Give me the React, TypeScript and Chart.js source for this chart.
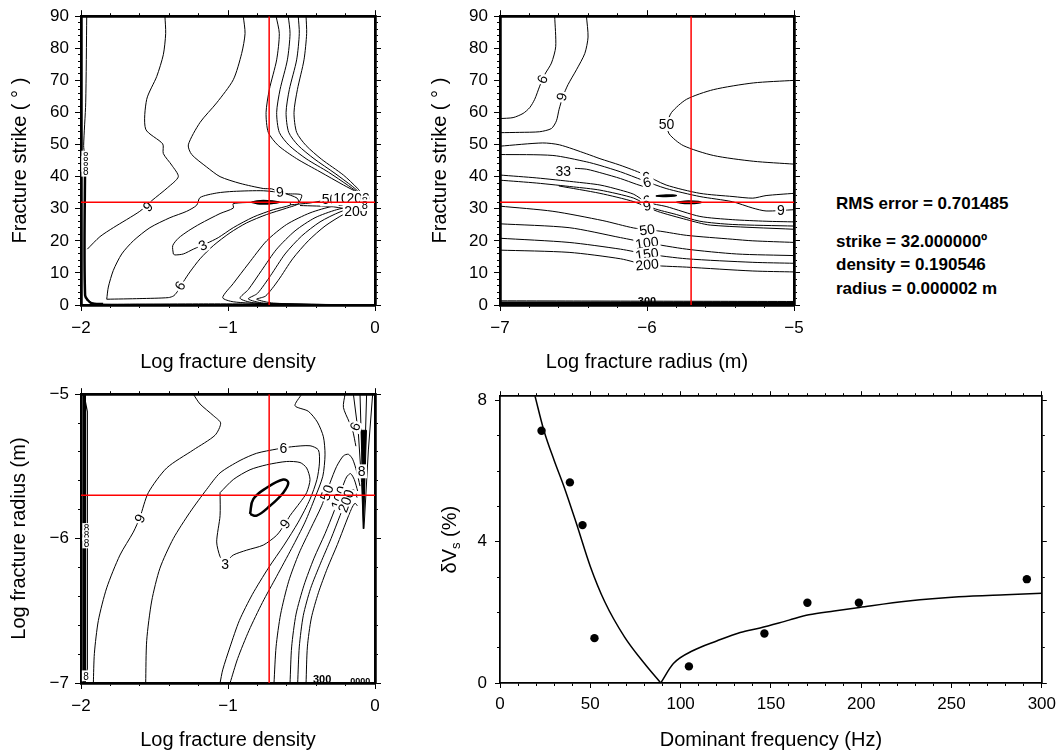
import React, { useEffect, useRef } from 'react';
import { Chart, registerables } from 'chart.js';

Chart.register(...registerables);

const FONT = "'Liberation Sans', Arial, Helvetica, sans-serif";
Chart.defaults.font.family = FONT;
Chart.defaults.color = '#000';

type Pt = [number, number];
type Lbl = { x: number; y: number; t: string; r?: number; s?: number; b?: boolean; nobg?: boolean };

// ---------------- tick positions ----------------
const DENSITY_MAJOR = [-2, -1, 0];
const DENSITY_MINOR = [-2, -1.8, -1.6, -1.4, -1.2, -1, -0.8, -0.6, -0.4, -0.2, 0];
const RADIUS_MAJOR = [-7, -6, -5];
const RADIUS_MINOR = [-7, -6.8, -6.6, -6.4, -6.2, -6, -5.8, -5.6, -5.4, -5.2, -5];
const STRIKE_MAJOR = [0, 10, 20, 30, 40, 50, 60, 70, 80, 90];
const STRIKE_MINOR = [0, 2, 4, 6, 8, 10, 12, 14, 16, 18, 20, 22, 24, 26, 28, 30, 32, 34, 36, 38, 40, 42, 44, 46, 48, 50, 52, 54, 56, 58, 60, 62, 64, 66, 68, 70, 72, 74, 76, 78, 80, 82, 84, 86, 88, 90];
const FREQ_MAJOR = [0, 50, 100, 150, 200, 250, 300];
const FREQ_MINOR = [0, 10, 20, 30, 40, 50, 60, 70, 80, 90, 100, 110, 120, 130, 140, 150, 160, 170, 180, 190, 200, 210, 220, 230, 240, 250, 260, 270, 280, 290, 300];
const DVS_MAJOR = [0, 4, 8];
const DVS_MINOR = [0, 1, 2, 3, 4, 5, 6, 7, 8];

// ---------------- best-fit values ----------------
const BEST_STRIKE = 32;
const BEST_LOG_DENSITY = -0.72;
const BEST_LOG_RADIUS = -5.7;
const RMS_TEXT = 'RMS error = 0.701485';
const STRIKE_TEXT = 'strike = 32.000000\u00ba';
const DENSITY_TEXT = 'density = 0.190546';
const RADIUS_TEXT = 'radius = 0.000002 m';

// ---------------- panel 4: data & model ----------------
const FREQ_OBS = [23, 38.7, 45.7, 52.3, 104.6, 146.4, 170.2, 198.7, 291.7];
const DVS_OBS = [7.14, 5.68, 4.47, 1.27, 0.47, 1.4, 2.27, 2.27, 2.94];
// model branch below the cusp (low frequencies) and above it
const FREQ_MODEL_LOW = [19.3, 24.3, 30, 35.5, 42.4, 50, 58, 69, 80, 89];
const DVS_MODEL_LOW = [8.14, 7.15, 6.3, 5.55, 4.5, 3.3, 2.3, 1.3, 0.55, 0];
const FREQ_MODEL_HIGH = [89, 96, 107, 120, 133, 144, 160, 171, 185, 199, 226, 254, 280, 300];
const DVS_MODEL_HIGH = [0, 0.55, 0.92, 1.19, 1.43, 1.56, 1.78, 1.93, 2.04, 2.14, 2.32, 2.44, 2.5, 2.54];

// ---------------- panel 1 contours (log density, strike) ----------------
const P1_LEFT_THIN: Pt[] = [[-1.961, 90], [-1.968, 63], [-1.982, 49.7], [-1.976, 47]];
const P1_LEFT_THICK: Pt[] = [[-1.972, 47], [-1.972, 3], [-1.93, 0.6], [-1.85, 0.3]];
const P1_BOTTOM: Pt[] = [[-1.966, 1.7], [-1.905, 0.4], [-1.6, 0.3], [-1.2, 0.35], [-0.9, 0.35], [-0.5, 0.2], [-0.05, 0.1]];
const P1_C9: Pt[] = [[-1.429, 90], [-1.424, 84.6], [-1.44, 78], [-1.485, 71.2], [-1.553, 64.1], [-1.56, 54.8], [-1.444, 50.2], [-1.44, 47.2], [-1.383, 43.6], [-1.338, 40.0], [-1.41, 36.6], [-1.519, 32.5], [-1.6, 29.2], [-1.78, 24.1], [-1.871, 21.3], [-1.957, 17.4]];
const P1_C9B: Pt[] = [[-0.896, 90], [-0.884, 84.6], [-0.907, 78.4], [-0.964, 70.2], [-1.077, 63], [-1.19, 56.9], [-1.27, 49.9], [-1.247, 46.9], [-1.145, 43], [-1.054, 40], [-0.918, 37.9], [-0.76, 36.3], [-0.703, 36.2], [-0.669, 35.6], [-0.6, 34.7], [-0.499, 34.3], [-0.517, 31.8]];
const P1_C6: Pt[] = [[-1.825, 1.8], [-1.814, 5.6], [-1.78, 10.8], [-1.723, 15.9], [-1.644, 20], [-1.531, 24.1], [-1.395, 27.2], [-1.281, 29.2], [-1.213, 31.1], [-1.19, 33.5], [-1.077, 34.9], [-0.964, 35.4], [-0.76, 35.6], [-0.62, 34.8], [-0.53, 33.3], [-0.52, 31.6], [-0.601, 30.2], [-0.737, 28.2], [-0.873, 25.6], [-0.986, 22.5], [-1.1, 18.5], [-1.19, 14.4], [-1.259, 10.3], [-1.304, 7.2], [-1.338, 4.6], [-1.368, 2.9], [-1.406, 2.3], [-1.599, 2.0], [-1.825, 1.8]];
const P1_C3: Pt[] = [[-1.372, 15.9], [-1.376, 18.5], [-1.338, 20.8], [-1.27, 23.1], [-1.19, 25.3], [-1.054, 28.5], [-0.964, 30.2], [-0.964, 31.6], [-0.782, 32.0], [-0.578, 31.9], [-0.578, 31.1], [-0.692, 29.7], [-0.828, 27.4], [-0.964, 24.1], [-1.066, 21.0], [-1.145, 19.2], [-1.236, 17.4], [-1.304, 15.9], [-1.361, 15.6], [-1.372, 15.9]];
const P1_MIN: Pt[] = [[-0.84, 32.0], [-0.8, 32.45], [-0.76, 32.6], [-0.7, 32.45], [-0.65, 32.05], [-0.7, 31.65], [-0.76, 31.45], [-0.8, 31.55], [-0.84, 32.0]];
const P1_U1: Pt[] = [[-0.673, 90], [-0.651, 84.6], [-0.669, 76.4], [-0.719, 67.1], [-0.741, 60], [-0.726, 53.8], [-0.658, 49.7], [-0.533, 45.6], [-0.374, 41.5], [-0.215, 37.4], [-0.113, 34.9], [-0.068, 33.3]];
const P1_U2: Pt[] = [[-0.59, 90], [-0.578, 84.6], [-0.596, 76.4], [-0.646, 67.1], [-0.669, 60], [-0.651, 53.8], [-0.583, 49.7], [-0.469, 45.6], [-0.317, 41.4], [-0.181, 37.2], [-0.097, 34.5], [-0.066, 33.3]];
const P1_U3: Pt[] = [[-0.522, 90], [-0.515, 84.6], [-0.533, 76.4], [-0.583, 67.1], [-0.605, 60], [-0.587, 53.8], [-0.522, 49.7], [-0.415, 45.6], [-0.272, 41], [-0.152, 36.9], [-0.088, 34.3], [-0.061, 33.2]];
const P1_U4: Pt[] = [[-0.469, 90], [-0.465, 84.6], [-0.483, 76.4], [-0.528, 67.1], [-0.551, 60], [-0.533, 53.8], [-0.469, 49.7], [-0.363, 45.4], [-0.215, 40.5], [-0.12, 36.4], [-0.079, 34.1], [-0.057, 33.1]];
const P1_D1: Pt[] = [[-0.079, 31.8], [-0.283, 30.8], [-0.442, 28.7], [-0.601, 25.1], [-0.737, 20], [-0.862, 12.8], [-0.964, 6.7], [-1.036, 2.3], [-0.964, 1.0], [-0.737, 0.4], [-0.397, 0.2], [-0.057, 0.05]];
const P1_D2: Pt[] = [[-0.075, 31.6], [-0.261, 29.7], [-0.408, 27.2], [-0.544, 23.1], [-0.669, 17.4], [-0.771, 10.8], [-0.862, 4.8], [-0.918, 2.1], [-0.828, 0.7], [-0.51, 0.2], [-0.057, 0.05]];
const P1_D3: Pt[] = [[-0.07, 31.4], [-0.238, 29], [-0.374, 25.9], [-0.499, 21.5], [-0.612, 15.9], [-0.71, 9.2], [-0.8, 3.6], [-0.862, 1.9], [-0.76, 0.6], [-0.397, 0.1]];
const P1_D4: Pt[] = [[-0.066, 31.2], [-0.215, 28.2], [-0.34, 24.6], [-0.454, 20], [-0.56, 14.4], [-0.658, 7.7], [-0.744, 2.8], [-0.805, 1.8], [-0.692, 0.6], [-0.283, 0.1]];
const P1_M1: Pt[] = [[-0.578, 31.2], [-0.442, 31.8], [-0.306, 32.9], [-0.193, 33.3], [-0.068, 33.1]];
const P1_M2: Pt[] = [[-0.51, 31.0], [-0.283, 30.6], [-0.136, 29.6], [-0.07, 31.0]];
const P1_LABELS: Lbl[] = [
  { x: -1.545, y: 30.7, t: '9', r: -45 },
  { x: -0.646, y: 35.3, t: '9', r: -5 },
  { x: -1.172, y: 18.6, t: '3', r: -25 },
  { x: -1.327, y: 6.0, t: '6', r: -58 },
  { x: -0.31, y: 32.9, t: '50' },
  { x: -0.205, y: 33.3, t: '100' },
  { x: -0.115, y: 33.4, t: '200' },
  { x: -0.13, y: 29.4, t: '200' },
  { x: -0.07, y: 32.3, t: '8', s: 11 },
  { x: -0.07, y: 31.1, t: '8', s: 11 },
  { x: -1.968, y: 46.4, t: '8', s: 10 },
  { x: -1.968, y: 44.8, t: '8', s: 10 },
  { x: -1.968, y: 43.2, t: '8', s: 10 },
  { x: -1.968, y: 41.7, t: '8', s: 10 },
];

// ---------------- panel 2 contours (log radius, strike) ----------------
const P2_C6: Pt[] = [[-6.628, 90], [-6.621, 80.5], [-6.65, 75.4], [-6.696, 71.8], [-6.73, 68.2], [-6.764, 64.1], [-6.798, 61.5], [-6.843, 59.7], [-6.911, 58.4], [-7, 58.1]];
const P2_C9: Pt[] = [[-6.412, 90], [-6.401, 83.5], [-6.423, 78.4], [-6.48, 73.3], [-6.537, 68.7], [-6.571, 65.1], [-6.598, 61], [-6.616, 57.4], [-6.65, 55], [-6.73, 54], [-6.866, 53.8], [-7, 53.7]];
const P2_C50: Pt[] = [[-5, 70], [-5.277, 69.2], [-5.549, 67.1], [-5.731, 64.1], [-5.833, 60], [-5.863, 56.4], [-5.849, 53.3], [-5.754, 49.7], [-5.549, 46.6], [-5.277, 44.8], [-5, 43.9]];
const P2_A: Pt[] = [[-7, 49.5], [-6.71, 50.5], [-6.594, 49.9], [-6.41, 47.1], [-6.32, 45.6], [-6.185, 43.6], [-6.03, 40.9], [-5.87, 37.4], [-5.64, 34.8], [-5.415, 33.8], [-5.28, 33.3], [-5.19, 34.1], [-5, 34.8]];
const P2_B: Pt[] = [[-7, 46.9], [-6.64, 46.6], [-6.41, 44.6], [-6.32, 43.5], [-6.18, 41.5], [-6.03, 38.9], [-5.87, 36.3], [-5.64, 33.8], [-5.42, 32.2], [-5.28, 30.2], [-5.19, 29.3], [-5, 29.7]];
const P2_C: Pt[] = [[-7, 40.5], [-6.75, 39.6], [-6.5, 38.4], [-6.32, 37.4], [-6.18, 35.8], [-6.09, 34.5], [-6, 32.0], [-5.87, 30.7], [-5.64, 27.6], [-5.42, 26.6], [-5.19, 26.1], [-5, 25.9]];
const P2_D: Pt[] = [[-7, 38.9], [-6.75, 38.0], [-6.5, 36.8], [-6.32, 35.8], [-6.09, 33.3], [-5.96, 30.2], [-5.8, 28.2], [-5.64, 26.1], [-5.42, 25.1], [-5, 24.6]];
const P2_E: Pt[] = [[-6.6, 37.1], [-6.32, 34.8], [-6.09, 32.2], [-5.93, 29.2], [-5.73, 26.6], [-5.57, 24.9], [-5, 23.6]];
const P2_33: Pt[] = [[-6.49, 42.6], [-6.41, 42.3], [-6.3, 41.0], [-6.18, 39.4], [-6.07, 37.6], [-6.0, 36.6]];
const P2_50: Pt[] = [[-7, 30.8], [-6.64, 29.2], [-6.3, 26.3], [-6.09, 24.0], [-5.91, 23.0], [-5.73, 21.7], [-5.42, 20.5], [-5.28, 20.0], [-5, 19.5]];
const P2_100: Pt[] = [[-7, 25.3], [-6.53, 24.1], [-6.18, 21.0], [-6.0, 19.4], [-5.73, 17.4], [-5.39, 15.9], [-5, 15.4]];
const P2_150: Pt[] = [[-7, 20.8], [-6.53, 19.5], [-6.18, 17.4], [-6.0, 15.9], [-5.73, 14.4], [-5.28, 13.3], [-5, 13.0]];
const P2_200: Pt[] = [[-7, 17.1], [-6.53, 16.4], [-6.18, 14.4], [-6.0, 12.5], [-5.73, 11.8], [-5.28, 10.6], [-5, 10.3]];
const P2_BLOB1: Pt[] = [[-5.94, 34.0], [-5.87, 34.3], [-5.8, 34.1], [-5.87, 33.8], [-5.94, 34.0]];
const P2_BLOB2: Pt[] = [[-5.8, 32.0], [-5.72, 32.4], [-5.63, 32.0], [-5.72, 31.6], [-5.8, 32.0]];
const P2_FLOOR: Pt[] = [[-7, 0.5], [-5, 0.5]];
const P2_FLOOR2: Pt[] = [[-7, 1.3], [-6.5, 1.25], [-6, 1.2], [-5.5, 1.15], [-5, 1.1]];
const P2_LABELS: Lbl[] = [
  { x: -6.712, y: 70.4, t: '6', r: -65 },
  { x: -6.582, y: 64.9, t: '9', r: -75 },
  { x: -5.867, y: 56.4, t: '50' },
  { x: -6.57, y: 41.7, t: '33' },
  { x: -6.0, y: 40.0, t: '9', r: -18 },
  { x: -6.0, y: 38.3, t: '6', r: -18 },
  { x: -6.0, y: 32.6, t: '6', r: -15 },
  { x: -6.0, y: 31.0, t: '9', r: -15 },
  { x: -5.09, y: 29.6, t: '9' },
  { x: -6.0, y: 23.5, t: '50', r: -8 },
  { x: -6.0, y: 19.4, t: '100', r: -8 },
  { x: -6.0, y: 15.9, t: '150', r: -8 },
  { x: -6.0, y: 12.6, t: '200', r: -6 },
  { x: -6.0, y: 1.2, t: '300', s: 11, b: true, nobg: true },
];

// ---------------- panel 3 contours (log density, log radius) ----------------
const P3_EDGE_THICK: Pt[] = [[-1.976, -5], [-1.976, -7]];
const P3_EDGE_THIN: Pt[] = [[-1.976, -5.02], [-1.957, -5.12], [-1.957, -6.9], [-1.972, -6.99]];
const P3_C9L: Pt[] = [[-1.236, -5.0], [-1.19, -5.068], [-1.1, -5.148], [-1.05, -5.2], [-1.088, -5.284], [-1.236, -5.386], [-1.417, -5.511], [-1.542, -5.682], [-1.599, -5.852], [-1.644, -5.955], [-1.735, -6.114], [-1.825, -6.341], [-1.882, -6.568], [-1.909, -6.795], [-1.916, -7.0]];
const P3_C6: Pt[] = [[-1.56, -7], [-1.553, -6.705], [-1.519, -6.432], [-1.463, -6.205], [-1.372, -6.0], [-1.259, -5.818], [-1.145, -5.659], [-1.054, -5.545], [-0.918, -5.459], [-0.805, -5.409], [-0.669, -5.38], [-0.567, -5.364], [-0.442, -5.357], [-0.385, -5.386], [-0.378, -5.477], [-0.395, -5.591], [-0.442, -5.727], [-0.522, -5.886], [-0.619, -6.045], [-0.726, -6.205], [-0.834, -6.386], [-0.923, -6.568], [-0.986, -6.75], [-1.036, -6.909], [-1.054, -7]];
const P3_LOOP: Pt[] = [[-1.054, -5.682], [-0.964, -5.591], [-0.85, -5.523], [-0.737, -5.489], [-0.601, -5.466], [-0.51, -5.473], [-0.465, -5.511], [-0.442, -5.591], [-0.465, -5.682], [-0.51, -5.75], [-0.578, -5.841], [-0.612, -5.898], [-0.669, -5.977], [-0.76, -6.045], [-0.873, -6.08], [-0.964, -6.114], [-1.009, -6.159], [-1.02, -6.177], [-1.054, -6.125], [-1.077, -6.023], [-1.054, -5.841], [-1.054, -5.682]];
const P3_MIN: Pt[] = [[-0.85, -5.83], [-0.828, -5.727], [-0.737, -5.648], [-0.624, -5.591], [-0.59, -5.614], [-0.624, -5.682], [-0.714, -5.773], [-0.805, -5.841], [-0.85, -5.83]];
const P3_9R: Pt[] = [[-0.499, -5], [-0.544, -5.08], [-0.454, -5.118], [-0.392, -5.193], [-0.351, -5.295], [-0.34, -5.42], [-0.355, -5.568], [-0.408, -5.716], [-0.476, -5.886], [-0.567, -6.068], [-0.669, -6.261], [-0.766, -6.443], [-0.857, -6.636], [-0.934, -6.83], [-0.986, -7]];
const P3_A0: Pt[] = [[-0.687, -7], [-0.673, -6.75], [-0.642, -6.523], [-0.587, -6.295], [-0.517, -6.102], [-0.438, -5.932], [-0.363, -5.773], [-0.306, -5.614], [-0.261, -5.5], [-0.215, -5.427], [-0.181, -5.416], [-0.152, -5.45], [-0.125, -5.534], [-0.102, -5.636]];
const P3_A1: Pt[] = [[-0.578, -7], [-0.567, -6.75], [-0.537, -6.523], [-0.483, -6.323], [-0.415, -6.136], [-0.34, -5.966], [-0.277, -5.807], [-0.227, -5.659], [-0.193, -5.573], [-0.166, -5.55], [-0.141, -5.591], [-0.118, -5.67]];
const P3_A2: Pt[] = [[-0.526, -7], [-0.515, -6.75], [-0.488, -6.534], [-0.438, -6.345], [-0.37, -6.17], [-0.299, -6.0], [-0.238, -5.841], [-0.193, -5.727], [-0.163, -5.664], [-0.141, -5.664], [-0.122, -5.716]];
const P3_A3: Pt[] = [[-0.469, -7], [-0.46, -6.75], [-0.433, -6.55], [-0.385, -6.375], [-0.324, -6.205], [-0.256, -6.041], [-0.197, -5.886], [-0.159, -5.791], [-0.136, -5.755], [-0.12, -5.773]];
const P3_S1: Pt[] = [[-0.147, -5], [-0.113, -5.273], [-0.091, -5.614], [-0.079, -5.932]];
const P3_S2: Pt[] = [[-0.102, -5], [-0.091, -5.386], [-0.079, -5.932]];
const P3_S3: Pt[] = [[-0.057, -5], [-0.068, -5.386], [-0.079, -5.932]];
const P3_S4: Pt[] = [[-0.016, -5], [-0.045, -5.386], [-0.075, -5.932]];
const P3_SFILL: Pt[] = [[-0.092, -5.25], [-0.058, -5.25], [-0.078, -5.9], [-0.092, -5.25]];
const P3_TR: Pt[] = [[-0.204, -5], [-0.215, -5.091], [-0.175, -5.193], [-0.152, -5.25], [-0.13, -5.36]];
const P3_LABELS: Lbl[] = [
  { x: -1.6, y: -5.86, t: '9', r: -65 },
  { x: -0.624, y: -5.375, t: '6' },
  { x: -0.612, y: -5.898, t: '9', r: -55 },
  { x: -1.02, y: -6.18, t: '3' },
  { x: -0.329, y: -5.682, t: '50', r: -70 },
  { x: -0.246, y: -5.716, t: '100', r: -70 },
  { x: -0.198, y: -5.739, t: '200', r: -70 },
  { x: -0.136, y: -5.223, t: '6', r: -65 },
  { x: -0.091, y: -5.534, t: '8' },
  { x: -1.962, y: -5.93, t: '8', s: 10 },
  { x: -1.962, y: -5.98, t: '8', s: 10 },
  { x: -1.962, y: -6.03, t: '8', s: 10 },
  { x: -1.965, y: -6.95, t: '8', s: 10 },
  { x: -0.36, y: -6.975, t: '300', s: 11, b: true, nobg: true },
  { x: -0.1, y: -6.98, t: '0000', s: 9, b: true, nobg: true },
];

// ---------------- helpers ----------------
const toXY = (pts: Pt[]) => pts.map(([x, y]) => ({ x, y }));
const contour = (pts: Pt[], width = 1, extra: any = {}) => ({
  data: toXY(pts),
  showLine: true,
  borderColor: '#000',
  backgroundColor: '#000',
  borderWidth: width,
  pointRadius: 0,
  pointHoverRadius: 0,
  tension: 0.25,
  fill: false,
  order: 1,
  ...extra,
});
const blob = (pts: Pt[]) => contour(pts, 1.5, { fill: 'shape', tension: 0.4 });
const redCross = (bx: number, by: number, xMin: number, xMax: number, yMin: number, yMax: number) => [
  { label: 'red', data: [{ x: bx, y: yMin }, { x: bx, y: yMax }], showLine: true, borderColor: '#ff0000', borderWidth: 1.5, pointRadius: 0, tension: 0, order: -1 },
  { label: 'red', data: [{ x: xMin, y: by }, { x: xMax, y: by }], showLine: true, borderColor: '#ff0000', borderWidth: 1.5, pointRadius: 0, tension: 0, order: -1 },
];

const fmtTick = (v: number) => (v < 0 ? '\u2212' + String(Math.abs(v)) : String(v));

function buildScales(c: any) {
  const s: any = {};
  const mk = (id: string, axis: string, position: string, min: number, max: number, arr: number[], len: number, weight: number, size: number, labels: boolean, title: any) => {
    s[id] = {
      type: 'linear',
      axis,
      position,
      min,
      max,
      weight,
      bounds: 'data',
      afterBuildTicks: (sc: any) => {
        sc.ticks = arr.map((v) => ({ value: v }));
      },
      afterFit: (sc: any) => {
        if (axis === 'x') sc.height = size;
        else sc.width = size;
      },
      grid: { drawOnChartArea: false, drawTicks: true, tickLength: len, color: '#000', tickColor: '#000', lineWidth: 1, tickWidth: 1 },
      border: { display: true, color: '#000', width: c.frame },
      ticks: labels
        ? {
            display: true,
            autoSkip: false,
            maxRotation: 0,
            minRotation: 0,
            padding: axis === 'x' ? c.xPad : c.yPad,
            color: '#000',
            font: { family: FONT, size: 17 },
            callback: (v: any) => fmtTick(Number(v)),
          }
        : { display: false },
      title: title
        ? { display: true, text: title.text, color: '#000', font: { family: FONT, size: 20 }, padding: title.padding }
        : { display: false },
    };
  };
  mk('x', 'x', 'bottom', c.xMin, c.xMax, c.xMajor, c.major, 1, c.B, true, c.xTitle);
  mk('xMinor', 'x', 'bottom', c.xMin, c.xMax, c.xMinor, c.minor, 0, 0, false, null);
  mk('xTop', 'x', 'top', c.xMin, c.xMax, c.xMajor, c.major, 1, c.T, false, null);
  mk('xTopMinor', 'x', 'top', c.xMin, c.xMax, c.xMinor, c.minor, 0, 0, false, null);
  mk('y', 'y', 'left', c.yMin, c.yMax, c.yMajor, c.major, 1, c.L, true, c.yTitle);
  mk('yMinor', 'y', 'left', c.yMin, c.yMax, c.yMinor, c.minor, 0, 0, false, null);
  mk('yRight', 'y', 'right', c.yMin, c.yMax, c.yMajor, c.major, 1, c.R, false, null);
  mk('yRightMinor', 'y', 'right', c.yMin, c.yMax, c.yMinor, c.minor, 0, 0, false, null);
  return s;
}

function labelPlugin(labels: Lbl[]) {
  const draw = (chart: any) => {
    const { ctx, scales } = chart;
    ctx.save();
    for (const lb of labels) {
      const px = scales.x.getPixelForValue(lb.x);
      const py = scales.y.getPixelForValue(lb.y);
      const size = lb.s || 14;
      ctx.save();
      ctx.translate(px, py);
      ctx.rotate(((lb.r || 0) * Math.PI) / 180);
      ctx.font = `${lb.b ? 'bold ' : ''}${size}px ${FONT}`;
      const w = ctx.measureText(lb.t).width;
      const h = size * 0.78;
      if (!lb.nobg) {
        ctx.fillStyle = '#fff';
        ctx.fillRect(-w / 2 - 1.5, -h / 2 - 1.5, w + 3, h + 3);
      }
      ctx.fillStyle = '#000';
      ctx.textAlign = 'center';
      ctx.textBaseline = 'middle';
      ctx.fillText(lb.t, 0, 1);
      ctx.restore();
    }
    ctx.restore();
  };
  return {
    id: 'contourLabels',
    beforeDatasetsDraw(chart: any) {
      chart.$lblDone = false;
    },
    beforeDatasetDraw(chart: any, args: any) {
      const ds = chart.data.datasets[args.index];
      if (!chart.$lblDone && ds && ds.label === 'red') {
        draw(chart);
        chart.$lblDone = true;
      }
    },
    afterDatasetsDraw(chart: any) {
      if (!chart.$lblDone) {
        draw(chart);
        chart.$lblDone = true;
      }
    },
  };
}

const dvTitlePlugin = {
  id: 'dvTitle',
  afterDraw(chart: any) {
    const ctx = chart.ctx;
    const cy = (chart.chartArea.top + chart.chartArea.bottom) / 2;
    ctx.save();
    ctx.translate(19, cy);
    ctx.rotate(-Math.PI / 2);
    const parts: [string, string, number][] = [
      ['\u03b4V', `20px ${FONT}`, 0],
      ['s', `13px ${FONT}`, 4],
      [' (%)', `20px ${FONT}`, 0],
    ];
    let total = 0;
    const widths = parts.map(([t, f]) => {
      ctx.font = f;
      const w = ctx.measureText(t).width;
      total += w;
      return w;
    });
    let x = -total / 2;
    ctx.fillStyle = '#000';
    ctx.textAlign = 'left';
    ctx.textBaseline = 'alphabetic';
    parts.forEach(([t, f, dy], i) => {
      ctx.font = f;
      ctx.fillText(t, x, 7 + dy);
      x += widths[i];
    });
    ctx.restore();
  },
};

const baseOptions = (scales: any) => ({
  responsive: false,
  animation: false,
  events: [],
  layout: { padding: 0, autoPadding: false },
  plugins: { legend: { display: false }, tooltip: { enabled: false }, title: { display: false } },
  scales,
});

function config1(): any {
  const datasets = [
    ...redCross(BEST_LOG_DENSITY, BEST_STRIKE, -2, 0, 0, 90),
    contour(P1_LEFT_THIN),
    contour(P1_LEFT_THICK, 2.5),
    contour(P1_BOTTOM),
    contour(P1_C9),
    contour(P1_C9B),
    contour(P1_C6),
    contour(P1_C3),
    blob(P1_MIN),
    contour(P1_U1),
    contour(P1_U2),
    contour(P1_U3),
    contour(P1_U4),
    contour(P1_D1),
    contour(P1_D2),
    contour(P1_D3),
    contour(P1_D4),
    contour(P1_M1),
    contour(P1_M2),
  ];
  const scales = buildScales({
    xMin: -2, xMax: 0, xMajor: DENSITY_MAJOR, xMinor: DENSITY_MINOR,
    yMin: 0, yMax: 90, yMajor: STRIKE_MAJOR, yMinor: STRIKE_MINOR,
    L: 81, R: 55, T: 12, B: 75, frame: 2.5, major: 6, minor: 3, xPad: 7, yPad: 6,
    xTitle: { text: 'Log fracture density', padding: { top: 0, bottom: 6 } },
    yTitle: { text: 'Fracture strike ( \u00b0 )', padding: { top: 8, bottom: 0 } },
  });
  return { type: 'scatter', data: { datasets }, options: baseOptions(scales), plugins: [labelPlugin(P1_LABELS)] };
}

function config2(): any {
  const datasets = [
    ...redCross(BEST_LOG_RADIUS, BEST_STRIKE, -7, -5, 0, 90),
    contour(P2_C6),
    contour(P2_C9),
    contour(P2_C50),
    contour(P2_A),
    contour(P2_B),
    contour(P2_C),
    contour(P2_D),
    contour(P2_E),
    contour(P2_33),
    contour(P2_50),
    contour(P2_100),
    contour(P2_150),
    contour(P2_200),
    blob(P2_BLOB1),
    blob(P2_BLOB2),
    contour(P2_FLOOR, 4, { tension: 0 }),
    contour(P2_FLOOR2),
  ];
  const scales = buildScales({
    xMin: -7, xMax: -5, xMajor: RADIUS_MAJOR, xMinor: RADIUS_MINOR,
    yMin: 0, yMax: 90, yMajor: STRIKE_MAJOR, yMinor: STRIKE_MINOR,
    L: 80, R: 26, T: 12, B: 75, frame: 2.5, major: 6, minor: 3, xPad: 7, yPad: 6,
    xTitle: { text: 'Log fracture radius (m)', padding: { top: 0, bottom: 6 } },
    yTitle: { text: 'Fracture strike ( \u00b0 )', padding: { top: 8, bottom: 0 } },
  });
  return { type: 'scatter', data: { datasets }, options: baseOptions(scales), plugins: [labelPlugin(P2_LABELS)] };
}

function config3(): any {
  const datasets = [
    ...redCross(BEST_LOG_DENSITY, BEST_LOG_RADIUS, -2, 0, -7, -5),
    contour(P3_EDGE_THICK, 3, { tension: 0 }),
    contour(P3_EDGE_THIN, 1.2, { tension: 0 }),
    contour(P3_C9L),
    contour(P3_C6),
    contour(P3_LOOP),
    contour(P3_MIN, 2.5, { tension: 0.4 }),
    contour(P3_9R),
    contour(P3_A0),
    contour(P3_A1),
    contour(P3_A2),
    contour(P3_A3),
    contour(P3_S1, 1, { tension: 0 }),
    contour(P3_S2, 1, { tension: 0 }),
    contour(P3_S3, 1, { tension: 0 }),
    contour(P3_S4, 1, { tension: 0 }),
    contour(P3_SFILL, 1, { fill: 'shape', tension: 0 }),
    contour(P3_TR),
  ];
  const scales = buildScales({
    xMin: -2, xMax: 0, xMajor: DENSITY_MAJOR, xMinor: DENSITY_MINOR,
    yMin: -7, yMax: -5, yMajor: RADIUS_MAJOR, yMinor: RADIUS_MINOR,
    L: 81, R: 55, T: 12, B: 72, frame: 2.5, major: 6, minor: 3, xPad: 7, yPad: 6,
    xTitle: { text: 'Log fracture density', padding: { top: 0, bottom: 3 } },
    yTitle: { text: 'Log fracture radius (m)', padding: { top: 7, bottom: 0 } },
  });
  return { type: 'scatter', data: { datasets }, options: baseOptions(scales), plugins: [labelPlugin(P3_LABELS)] };
}

function config4(): any {
  const low = FREQ_MODEL_LOW.map((f, i) => ({ x: f, y: DVS_MODEL_LOW[i] }));
  const high = FREQ_MODEL_HIGH.map((f, i) => ({ x: f, y: DVS_MODEL_HIGH[i] }));
  const obs = FREQ_OBS.map((f, i) => ({ x: f, y: DVS_OBS[i] }));
  const modelStyle = { showLine: true, borderColor: '#000', borderWidth: 1.5, pointRadius: 0, cubicInterpolationMode: 'monotone', order: 1 };
  const datasets = [
    { data: obs, showLine: false, pointRadius: 4.2, pointBackgroundColor: '#000', pointBorderColor: '#000', pointBorderWidth: 0, order: 0 },
    { data: low, ...modelStyle },
    { data: high, ...modelStyle },
  ];
  const scales = buildScales({
    xMin: 0, xMax: 300, xMajor: FREQ_MAJOR, xMinor: FREQ_MINOR,
    yMin: 0, yMax: 8.12, yMajor: DVS_MAJOR, yMinor: DVS_MINOR,
    L: 70, R: 17, T: 12, B: 72, frame: 1.5, major: 5, minor: 3, xPad: 6, yPad: 8,
    xTitle: { text: 'Dominant frequency (Hz)', padding: { top: 0, bottom: 3 } },
    yTitle: null,
  });
  return { type: 'scatter', data: { datasets }, options: baseOptions(scales), plugins: [dvTitlePlugin] };
}

const textStyle: React.CSSProperties = {
  position: 'absolute',
  left: 836,
  fontFamily: FONT,
  fontWeight: 700,
  fontSize: 17,
  lineHeight: '20px',
  color: '#000',
  whiteSpace: 'nowrap',
};

export default function App() {
  const r1 = useRef<HTMLCanvasElement>(null);
  const r2 = useRef<HTMLCanvasElement>(null);
  const r3 = useRef<HTMLCanvasElement>(null);
  const r4 = useRef<HTMLCanvasElement>(null);

  useEffect(() => {
    const charts = [
      new Chart(r1.current as HTMLCanvasElement, config1()),
      new Chart(r2.current as HTMLCanvasElement, config2()),
      new Chart(r3.current as HTMLCanvasElement, config3()),
      new Chart(r4.current as HTMLCanvasElement, config4()),
    ];
    return () => charts.forEach((c) => c.destroy());
  }, []);

  const cv = (left: number, top: number, w: number, h: number): React.CSSProperties => ({
    position: 'absolute', left, top, width: w, height: h,
  });

  return (
    <div style={{ position: 'absolute', left: 0, top: 0, width: 1062, height: 755, background: '#fff', overflow: 'hidden' }}>
      <canvas ref={r1} width={430} height={380} style={cv(0, 0, 430, 380)} />
      <canvas ref={r2} width={400} height={380} style={cv(420, 0, 400, 380)} />
      <canvas ref={r3} width={430} height={377} style={cv(0, 378, 430, 377)} />
      <canvas ref={r4} width={632} height={377} style={cv(430, 378, 632, 377)} />
      <div style={{ ...textStyle, top: 194 }}>{RMS_TEXT}</div>
      <div style={{ ...textStyle, top: 232 }}>{STRIKE_TEXT}</div>
      <div style={{ ...textStyle, top: 255 }}>{DENSITY_TEXT}</div>
      <div style={{ ...textStyle, top: 279 }}>{RADIUS_TEXT}</div>
    </div>
  );
}
